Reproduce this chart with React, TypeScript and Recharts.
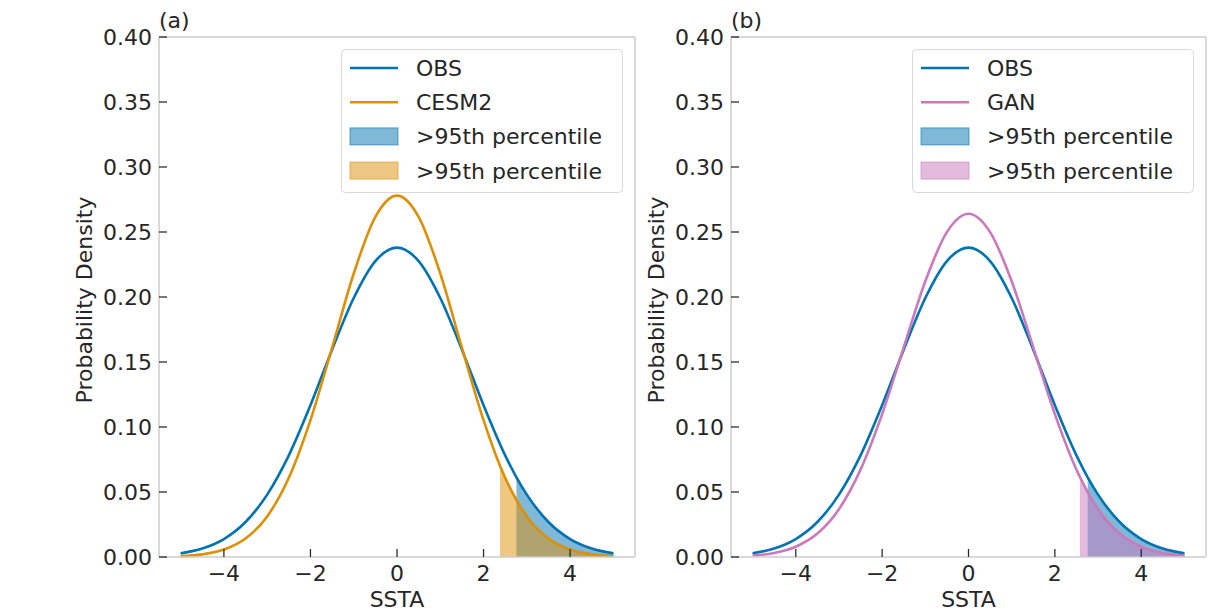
import { Area, ComposedChart, Label, Legend, Line, XAxis, YAxis } from "recharts";

// SSTA grid and densities
const ssta = [-5, -4.5, -4, -3.5, -3, -2.5, -2, -1.5, -1, -0.5, 0, 0.5, 1, 1.5, 2, 2.5, 3, 3.5, 4, 4.5, 5];
const obsPdf = [0.0028, 0.0065, 0.0138, 0.0269, 0.048, 0.0782, 0.1168, 0.1595, 0.1992, 0.2276, 0.238, 0.2276, 0.1992, 0.1595, 0.1168, 0.0782, 0.048, 0.0269, 0.0138, 0.0065, 0.0028];
const cesm2Pdf = [0.0006, 0.002, 0.0057, 0.0142, 0.0312, 0.0609, 0.1053, 0.161, 0.2181, 0.2616, 0.278, 0.2616, 0.2181, 0.161, 0.1053, 0.0609, 0.0312, 0.0142, 0.0057, 0.002, 0.0006];
const ganPdf = [0.0011, 0.0031, 0.0079, 0.018, 0.0368, 0.0672, 0.1099, 0.1613, 0.2121, 0.2499, 0.264, 0.2499, 0.2121, 0.1613, 0.1099, 0.0672, 0.0368, 0.018, 0.0079, 0.0031, 0.0011];

// 95th percentile [ssta, density at that point]
const obsP95 = [2.76, 0.0613];
const cesm2P95 = [2.38, 0.0702];
const ganP95 = [2.58, 0.0615];

const xTicks = [-4, -2, 0, 2, 4];
const yTicks = [0, 0.05, 0.1, 0.15, 0.2, 0.25, 0.3, 0.35, 0.4];

const OBS = "#0173b2";
const CESM = "#de8f05";
const GAN = "#cc78bc";
const INK = "#262626";
const SPINE = "#cccccc";

type Row = { x: number; obs?: number; model?: number; obsTail?: number | null; modelTail?: number | null };

function buildRows(model: number[], modelP95: number[]): Row[] {
  const rows: Row[] = ssta.map((x, i) => ({ x, obs: obsPdf[i], model: model[i] }));
  rows.push({ x: obsP95[0], obs: obsP95[1] });
  rows.push({ x: modelP95[0], model: modelP95[1] });
  rows.sort((a, b) => a.x - b.x);
  return rows.map((r) => ({
    ...r,
    obsTail: r.x >= obsP95[0] && r.obs != null ? r.obs : null,
    modelTail: r.x >= modelP95[0] && r.model != null ? r.model : null,
  }));
}

const fmtX = (v: number) => (v < 0 ? `\u2212${-v}` : `${v}`);

type LegendItem = { kind: "line" | "patch"; color: string; label: string };

function PanelLegend({ items }: { items: LegendItem[] }) {
  return (
    <svg width={282} height={144} style={{ display: "block" }}>
      <rect x={0.5} y={0.5} width={281} height={143} rx={4} fill="#ffffff" fillOpacity={0.8} stroke="#d9d9d9" />
      {items.map((it, i) => {
        const cy = 19 + i * 34.2;
        return (
          <g key={i}>
            {it.kind === "line" ? (
              <line x1={9} x2={57} y1={cy} y2={cy} stroke={it.color} strokeWidth={2.6} />
            ) : (
              <rect x={9} y={cy - 8.5} width={48} height={17} fill={it.color} fillOpacity={0.5} stroke={it.color} strokeOpacity={0.6} />
            )}
            <text x={75} y={cy + 8} fontSize={22} fill={INK}>
              {it.label}
            </text>
          </g>
        );
      })}
    </svg>
  );
}

function Panel({
  tag, model, modelP95, modelName, color, width, yAxisWidth, rightMargin, legendLeft,
}: {
  tag: string; model: number[]; modelP95: number[]; modelName: string; color: string;
  width: number; yAxisWidth: number; rightMargin: number; legendLeft: number;
}) {
  const data = buildRows(model, modelP95);
  const items: LegendItem[] = [
    { kind: "line", color: OBS, label: "OBS" },
    { kind: "line", color, label: modelName },
    { kind: "patch", color: OBS, label: ">95th percentile" },
    { kind: "patch", color, label: ">95th percentile" },
  ];
  const tick = { fill: INK, fontSize: 22 };
  const tickLine = { stroke: INK, strokeWidth: 1.25 };
  const axisLine = { stroke: SPINE, strokeWidth: 1.5 };
  return (
    <ComposedChart width={width} height={612} data={data} margin={{ top: 36, right: rightMargin - 1, bottom: 0, left: 0 }}>
      <XAxis
        dataKey="x" type="number" domain={[-5.5, 5.5]} ticks={xTicks} interval={0}
        tickFormatter={fmtX} tick={tick} tickLine={tickLine} axisLine={axisLine}
        tickSize={-8} tickMargin={16} height={55}
      >
        <Label
          content={({ viewBox }: any) => (
            <text x={viewBox.x + viewBox.width / 2} y={viewBox.y + viewBox.height - 5} textAnchor="middle" fontSize={22} fill={INK}>
              SSTA
            </text>
          )}
        />
      </XAxis>
      <XAxis
        xAxisId="top" dataKey="x" orientation="top" type="number" domain={[-5.5, 5.5]} ticks={xTicks} interval={0}
        tick={false} tickLine={tickLine} axisLine={axisLine} tickSize={-8} height={1}
      >
        <Label
          content={({ viewBox }: any) => (
            <text x={viewBox.x} y={viewBox.y + viewBox.height - 9} fontSize={22} fill={INK}>
              {tag}
            </text>
          )}
        />
      </XAxis>
      <YAxis
        type="number" domain={[0, 0.4]} ticks={yTicks} interval={0}
        tickFormatter={(v: number) => v.toFixed(2)} tick={tick} tickLine={tickLine} axisLine={axisLine}
        tickSize={-8} tickMargin={15} width={yAxisWidth}
      >
        <Label
          content={({ viewBox }: any) => {
            const lx = viewBox.x + viewBox.width - 67;
            const ly = viewBox.y + viewBox.height / 2 + 3;
            return (
              <text x={lx} y={ly} transform={`rotate(-90, ${lx}, ${ly})`} textAnchor="middle" fontSize={22} fill={INK}>
                Probability Density
              </text>
            );
          }}
        />
      </YAxis>
      <YAxis
        yAxisId="right" orientation="right" type="number" domain={[0, 0.4]} ticks={yTicks} interval={0}
        tick={false} tickLine={tickLine} axisLine={axisLine} tickSize={-8} width={1}
      />
      <Legend
        layout="vertical" align="center" verticalAlign="middle"
        wrapperStyle={{ left: legendLeft, top: 49 }}
        content={() => <PanelLegend items={items} />}
      />
      <Area
        dataKey="obsTail" type="monotone" connectNulls fill={OBS} fillOpacity={0.5}
        stroke={OBS} strokeOpacity={0.5} strokeWidth={1} dot={false} activeDot={false} isAnimationActive={false}
      />
      <Area
        dataKey="modelTail" type="monotone" connectNulls fill={color} fillOpacity={0.5}
        stroke={color} strokeOpacity={0.5} strokeWidth={1} dot={false} activeDot={false} isAnimationActive={false}
      />
      <Line dataKey="obs" type="monotone" connectNulls stroke={OBS} strokeWidth={2.6} dot={false} activeDot={false} isAnimationActive={false} />
      <Line dataKey="model" type="monotone" connectNulls stroke={color} strokeWidth={2.6} dot={false} activeDot={false} isAnimationActive={false} />
    </ComposedChart>
  );
}

export default function App() {
  return (
    <div style={{ position: "absolute", left: 0, top: 0, width: 1212, height: 612, background: "#fff", fontFamily: "'DejaVu Sans', sans-serif" }}>
      <div style={{ position: "absolute", left: 0, top: 0 }}>
        <Panel tag="(a)" model={cesm2Pdf} modelP95={cesm2P95} modelName="CESM2" color={CESM}
          width={660} yAxisWidth={159} rightMargin={25} legendLeft={341} />
      </div>
      <div style={{ position: "absolute", left: 600, top: 0 }}>
        <Panel tag="(b)" model={ganPdf} modelP95={ganP95} modelName="GAN" color={GAN}
          width={612} yAxisWidth={131} rightMargin={6} legendLeft={312} />
      </div>
    </div>
  );
}
